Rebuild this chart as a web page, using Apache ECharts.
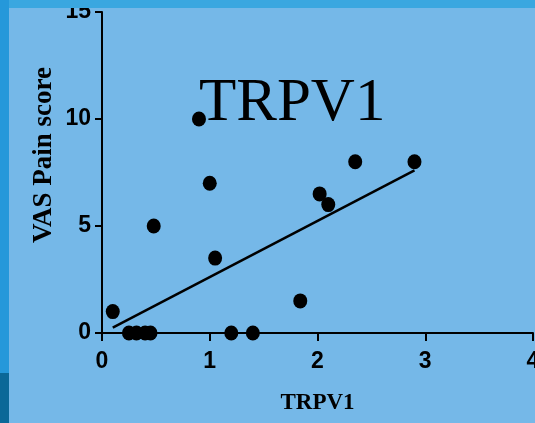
<!DOCTYPE html>
<html>
<head>
<meta charset="utf-8">
<script src="https://cdn.jsdelivr.net/npm/echarts@6/dist/echarts.min.js"></script>
<style>
  html, body { margin: 0; padding: 0; background: #75b8e8; }
  #chart { width: 535px; height: 423px; }
</style>
</head>
<body>
<div id="chart"></div>
<script>
'use strict';

// TRPV1 expression vs VAS pain score, one dot per patient
var trpv1 = [0.1, 0.25, 0.32, 0.4, 0.45, 0.48, 0.9, 1.0, 1.05, 1.2, 1.4, 1.84, 2.02, 2.1, 2.35, 2.9];
var vasScore = [1, 0, 0, 0, 0, 5, 10, 7, 3.5, 0, 0, 1.5, 6.5, 6, 8, 8];

// fitted line as drawn in the figure (end points)
var fitX = [0.1, 2.9];
var fitY = [0.25, 7.6];

var xTicks = [0, 1, 2, 3, 4];
var yTicks = [0, 5, 10, 15];

var chart = echarts.init(document.getElementById('chart'));

var points = trpv1.map(function (x, i) { return [x, vasScore[i]]; });
var fitLine = fitX.map(function (x, i) { return [x, fitY[i]]; });

var tickFont = {
    color: '#000',
    fontFamily: 'Liberation Sans',
    fontWeight: 'bold',
    fontSize: 23
};

var options = {
    backgroundColor: '#75b8e8',
    animation: false,
    title: {
        text: 'TRPV1',
        left: 194,
        top: 68,
        textStyle: {
            fontFamily: 'Liberation Serif',
            fontWeight: 'normal',
            fontSize: 61,
            color: '#000'
        }
    },
    grid: { left: 102, right: 2, top: 12, bottom: 90, outerBoundsMode: 'none' },
    xAxis: {
        type: 'value',
        min: xTicks[0],
        max: xTicks[xTicks.length - 1],
        interval: 1,
        name: 'TRPV1',
        nameLocation: 'middle',
        nameGap: 59,
        nameTextStyle: {
            fontFamily: 'Liberation Serif',
            fontWeight: 'bold',
            fontSize: 23,
            color: '#000'
        },
        axisLine: { onZero: false, lineStyle: { color: '#000', width: 2 } },
        axisTick: { length: 8, lineStyle: { color: '#000', width: 2 } },
        axisLabel: Object.assign({ margin: 17 }, tickFont),
        splitLine: { show: false }
    },
    yAxis: {
        type: 'value',
        min: yTicks[0],
        max: yTicks[yTicks.length - 1],
        interval: 5,
        axisLine: { show: true, onZero: false, lineStyle: { color: '#000', width: 2 } },
        axisTick: { show: true, length: 7, lineStyle: { color: '#000', width: 2 } },
        axisLabel: Object.assign({ margin: 11 }, tickFont),
        splitLine: { show: false }
    },
    series: [
        {
            type: 'line',
            data: fitLine,
            symbol: 'none',
            lineStyle: { color: '#000', width: 2.5 },
            z: 2
        },
        {
            type: 'scatter',
            data: points,
            symbol: 'circle',
            symbolSize: [14, 15],
            itemStyle: { color: '#000', opacity: 1 },
            z: 3
        }
    ],
    graphic: [
        // y axis title sits a bit above the plot centre in the figure
        {
            type: 'text',
            x: 44,
            y: 155,
            rotation: Math.PI / 2,
            style: {
                text: 'VAS Pain score',
                align: 'center',
                verticalAlign: 'middle',
                fontFamily: 'Liberation Serif',
                fontWeight: 'bold',
                fontSize: 27,
                fill: '#000'
            }
        },
        // slide frame strips along the top and left edges
        {
            type: 'rect',
            z: 100,
            shape: { x: 0, y: 0, width: 535, height: 8 },
            style: { fill: '#3aa7e0' }
        },
        {
            type: 'rect',
            z: 100,
            shape: { x: 0, y: 0, width: 9, height: 373 },
            style: { fill: '#2598da' }
        },
        {
            type: 'rect',
            z: 100,
            shape: { x: 0, y: 373, width: 9, height: 50 },
            style: { fill: '#0b6898' }
        }
    ]
};

chart.setOption(options);
</script>
</body>
</html>
